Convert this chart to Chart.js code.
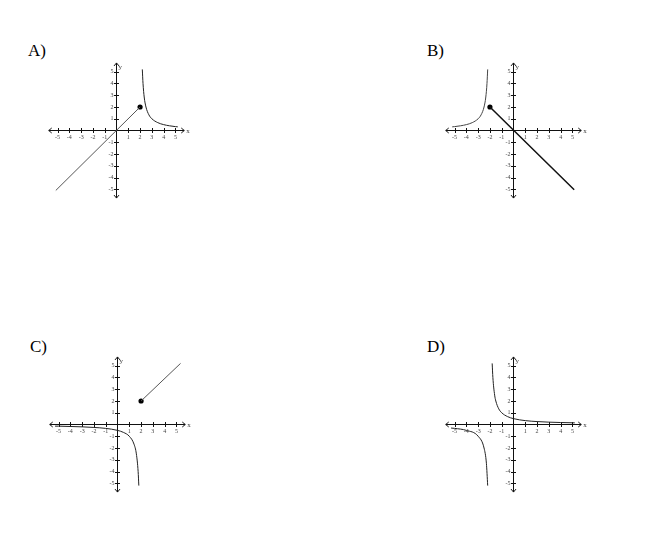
<!DOCTYPE html>
<html>
<head>
<meta charset="utf-8">
<script src="https://cdn.jsdelivr.net/npm/chart.js@4.4.1/dist/chart.umd.min.js"></script>
<style>
    body { margin: 0; background: #fff; width: 653px; height: 540px; position: relative; overflow: hidden; }
    .lbl { position: absolute; font-family: "Liberation Serif", serif; font-size: 17px; line-height: 17px; color: #000; }
    .plot { position: absolute; width: 165px; height: 141px; }
</style>
</head>
<body>
<div class="lbl" style="left:28px; top:42px;">A)</div>
<div class="lbl" style="left:427px; top:42px;">B)</div>
<div class="lbl" style="left:30px; top:338px;">C)</div>
<div class="lbl" style="left:427px; top:338px;">D)</div>

<canvas id="graph-a" class="plot" width="165" height="141" style="left:34px; top:60px;"></canvas>
<canvas id="graph-b" class="plot" width="165" height="141" style="left:431px; top:60px;"></canvas>
<canvas id="graph-c" class="plot" width="165" height="141" style="left:35px; top:354px;"></canvas>
<canvas id="graph-d" class="plot" width="165" height="141" style="left:431px; top:354px;"></canvas>

<script>
// tick labels
const tickValues = [-5, -4, -3, -2, -1, 1, 2, 3, 4, 5];

// A) line y = x up to the closed dot, then the curve
const lineAx = [-5.15, 2];
const lineAy = [-5.1, 2];
const curveAx = [2.19, 2.25, 2.35, 2.5, 2.75, 3, 3.5, 4, 4.5, 5, 5.2];
const curveAy = [5.2, 4, 2.85, 2, 1.33, 1, 0.67, 0.5, 0.4, 0.33, 0.31];
const dotA = [2, 2];

// B)
const curveBx = [-5.2, -5, -4.5, -4, -3.5, -3, -2.75, -2.5, -2.35, -2.25, -2.19];
const curveBy = [0.31, 0.33, 0.4, 0.5, 0.67, 1, 1.33, 2, 2.85, 4, 5.2];
const lineBx = [-2, 5.15];
const lineBy = [2, -5.05];
const dotB = [-2, 2];

// C)
const lineCx = [2, 5.35];
const lineCy = [2, 5.2];
const curveCx = [-5.3, -5, -4, -3, -2, -1, 0, 0.5, 1, 1.4, 1.6, 1.75, 1.81];
const curveCy = [-0.14, -0.14, -0.17, -0.2, -0.25, -0.33, -0.5, -0.67, -1, -1.67, -2.5, -4, -5.2];
const dotC = [2, 2];

// D)
const curveDrx = [-1.81, -1.75, -1.6, -1.5, -1.25, -1, -0.5, 0, 1, 2, 3, 4, 5.2];
const curveDry = [5.2, 4, 2.5, 2, 1.33, 1, 0.67, 0.5, 0.33, 0.25, 0.2, 0.17, 0.14];
const curveDlx = [-5.3, -5, -4, -3, -2.5, -2.3, -2.19];
const curveDly = [-0.3, -0.33, -0.5, -1, -2, -3.3, -5.2];

function pts(xs, ys) {
    return xs.map((x, i) => ({ x: x, y: ys[i] }));
}

function curve(xs, ys, width, color) {
    return {
        data: pts(xs, ys),
        showLine: true,
        borderColor: color || "#222",
        borderWidth: width || 1,
        pointRadius: 0,
        cubicInterpolationMode: "monotone",
        fill: false,
    };
}

function dot(p) {
    return {
        data: [{ x: p[0], y: p[1] }],
        pointRadius: 2.6,
        borderWidth: 0,
        pointBackgroundColor: "#000",
        pointBorderColor: "#000",
        showLine: false,
    };
}

// axes through the origin, with arrows, ticks and labels
const originAxes = {
    id: "originAxes",
    beforeDatasetsDraw(chart) {
        const ctx = chart.ctx;
        const sx = chart.scales.x;
        const sy = chart.scales.y;
        const ox = sx.getPixelForValue(0);
        const oy = sy.getPixelForValue(0);
        const xl = sx.getPixelForValue(-5.75);
        const xr = sx.getPixelForValue(5.75);
        const yt = sy.getPixelForValue(5.75);
        const yb = sy.getPixelForValue(-5.75);

        ctx.save();
        ctx.strokeStyle = "#111";
        ctx.lineWidth = 1;
        ctx.beginPath();
        ctx.moveTo(xl, oy);
        ctx.lineTo(xr, oy);
        ctx.moveTo(ox, yt);
        ctx.lineTo(ox, yb);
        ctx.stroke();

        // arrow heads
        ctx.beginPath();
        ctx.moveTo(xl + 3, oy - 2.5);
        ctx.lineTo(xl, oy);
        ctx.lineTo(xl + 3, oy + 2.5);
        ctx.moveTo(xr - 3, oy - 2.5);
        ctx.lineTo(xr, oy);
        ctx.lineTo(xr - 3, oy + 2.5);
        ctx.moveTo(ox - 2.5, yt + 3);
        ctx.lineTo(ox, yt);
        ctx.lineTo(ox + 2.5, yt + 3);
        ctx.moveTo(ox - 2.5, yb - 3);
        ctx.lineTo(ox, yb);
        ctx.lineTo(ox + 2.5, yb - 3);
        ctx.stroke();

        // ticks
        ctx.beginPath();
        tickValues.forEach((v) => {
            const px = Math.round(sx.getPixelForValue(v)) + 0.5;
            ctx.moveTo(px, oy - 2.5);
            ctx.lineTo(px, oy + 2.5);
            const py = Math.round(sy.getPixelForValue(v)) + 0.5;
            ctx.moveTo(ox - 2.5, py);
            ctx.lineTo(ox + 2.5, py);
        });
        ctx.stroke();

        // labels
        ctx.fillStyle = "#444";
        ctx.font = "6px 'Liberation Serif'";
        ctx.textAlign = "center";
        ctx.textBaseline = "top";
        tickValues.forEach((v) => {
            ctx.fillText(String(v), sx.getPixelForValue(v), oy + 4);
        });
        ctx.textAlign = "right";
        ctx.textBaseline = "middle";
        tickValues.forEach((v) => {
            ctx.fillText(String(v), ox - 3, sy.getPixelForValue(v));
        });
        ctx.font = "7px 'Liberation Serif'";
        ctx.textAlign = "left";
        ctx.fillText("x", xr + 2, oy + 1);
        ctx.fillText("y", ox + 2, sy.getPixelForValue(5.35));
        ctx.restore();
    },
};

function makeGraph(id, datasets) {
    return new Chart(document.getElementById(id), {
        type: "scatter",
        data: { datasets: datasets },
        options: {
            responsive: false,
            animation: false,
            layout: { padding: 0, autoPadding: false },
            scales: {
                x: { type: "linear", min: -7, max: 7, display: false },
                y: { type: "linear", min: -6, max: 6, display: false },
            },
            plugins: {
                legend: { display: false },
                tooltip: { enabled: false },
            },
        },
        plugins: [originAxes],
    });
}

makeGraph("graph-a", [curve(lineAx, lineAy, 1, "#555"), curve(curveAx, curveAy, 1), dot(dotA)]);
makeGraph("graph-b", [curve(curveBx, curveBy, 1, "#444"), curve(lineBx, lineBy, 1.5, "#111"), dot(dotB)]);
makeGraph("graph-c", [curve(lineCx, lineCy, 1, "#555"), curve(curveCx, curveCy, 1), dot(dotC)]);
makeGraph("graph-d", [curve(curveDrx, curveDry, 1), curve(curveDlx, curveDly, 1)]);
</script>
</body>
</html>
